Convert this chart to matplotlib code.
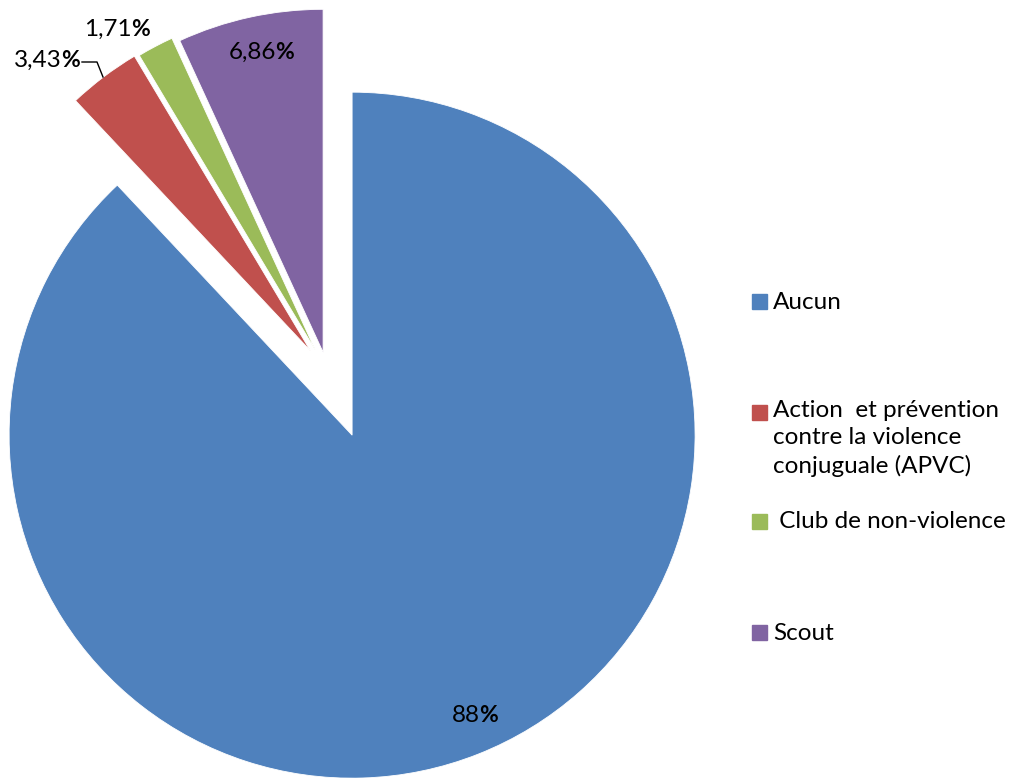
import matplotlib
matplotlib.use("Agg")
import matplotlib.pyplot as plt
from matplotlib.patches import Rectangle

categories = ["Aucun",
              "Action  et prévention\ncontre la violence\nconjuguale (APVC)",
              " Club de non-violence",
              "Scout"]
values = [88.0, 3.43, 1.71, 6.86]
value_numbers = ["88", "3,43", "1,71", "6,86"]
colors = ["#4F81BD", "#C0504D", "#9BBB59", "#8064A2"]

plt.rcParams['font.family'] = ['Lato', 'DejaVu Sans']

W, H = 1016, 778
fig = plt.figure(figsize=(W / 100, H / 100), dpi=100)
ax = fig.add_axes([0, 0, 1, 1])

radius = 343
center = (327.8, H - 373.8)
# matplotlib applies explode as an absolute offset in data units
explode = [66, 29, 27, 22]
wedges, _ = ax.pie(values, colors=colors, startangle=90, counterclock=False,
                   radius=radius, center=center, frame=True, explode=explode,
                   wedgeprops=dict(edgecolor='white', linewidth=0.6))
ax.set_xlim(0, W)
ax.set_ylim(0, H)
ax.set_aspect('equal')
ax.axis('off')

fs = 17.5


def pct_label(x_split, y, num):
    ax.text(x_split, H - y, num, ha='right', va='center', fontsize=fs)
    ax.text(x_split - 1, H - y, "%", ha='left', va='center', fontsize=fs - 1,
            fontweight='bold')


pct_label(480, 715, value_numbers[0])
pct_label(62, 60, value_numbers[1])
pct_label(132, 29, value_numbers[2])
pct_label(276, 52, value_numbers[3])
ax.plot([82, 97, 103], [H - 62, H - 62, H - 77], color='black', lw=1)

# legend
leg_y = [302, 413, 522, 633]
for y, lab, c in zip(leg_y, categories, colors):
    ax.add_patch(Rectangle((752, H - y - 7), 15, 15, color=c))
    if '\n' in lab:
        ax.text(773, H - y + 13, lab, ha='left', va='top', fontsize=fs,
                linespacing=1.38)
    else:
        ax.text(773, H - y, lab, ha='left', va='center', fontsize=fs)

fig.savefig("out.png", dpi=100)
